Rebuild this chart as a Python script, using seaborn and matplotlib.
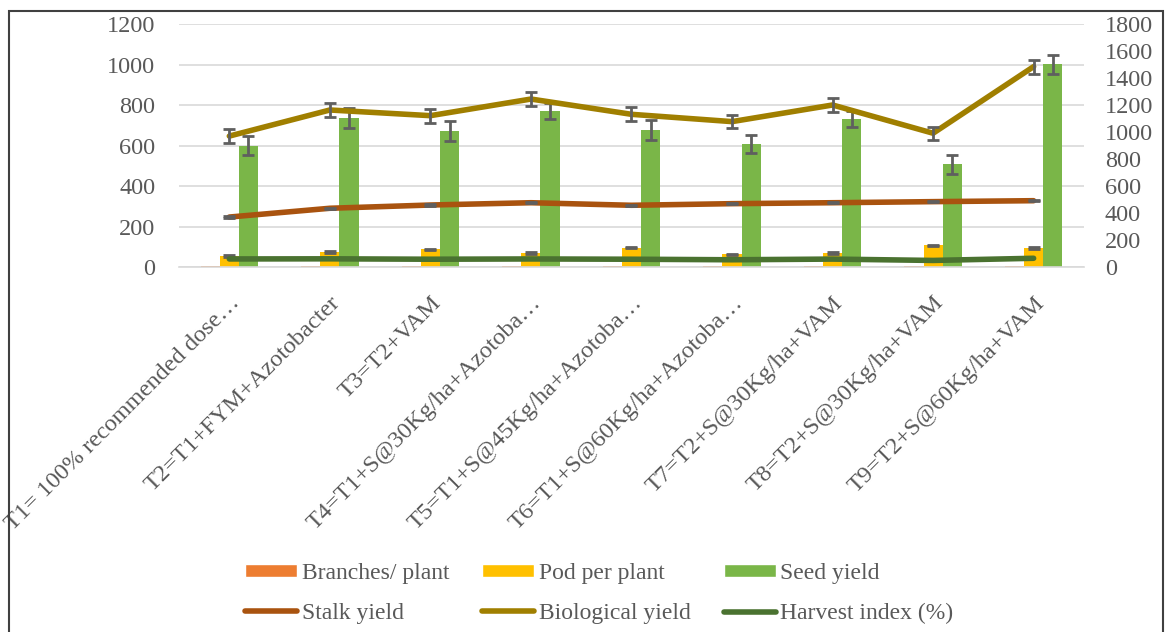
import numpy as np
import pandas as pd
import matplotlib
matplotlib.use("Agg")
import matplotlib.pyplot as plt
import seaborn as sns
from matplotlib.patches import Patch, Rectangle
from matplotlib.lines import Line2D

# Treatments
treatments = [
    "T1= 100% recommended dose…",
    "T2=T1+FYM+Azotobacter",
    "T3=T2+VAM",
    "T4=T1+S@30Kg/ha+Azotoba…",
    "T5=T1+S@45Kg/ha+Azotoba…",
    "T6=T1+S@60Kg/ha+Azotoba…",
    "T7=T2+S@30Kg/ha+VAM",
    "T8=T2+S@30Kg/ha+VAM",
    "T9=T2+S@60Kg/ha+VAM",
]

# Bar series (primary axis)
branches_per_plant = [9, 9, 9, 9, 9, 9, 9, 9, 9]
pod_per_plant = [57, 77, 89, 70, 97, 64, 72, 108, 95]
pod_err = [4, 4, 3, 4, 3, 4, 4, 3, 4]
seed_yield = [600, 735, 671, 772, 677, 608, 730, 508, 1001]
seed_err = [46, 49, 49, 39, 50, 46, 39, 46, 47]

# Line series (secondary axis)
stalk_yield = [372, 437, 461, 478, 459, 471, 478, 486, 493]
stalk_err = [5, 5, 5, 5, 5, 5, 5, 5, 5]
biological_yield = [971, 1164, 1122, 1245, 1132, 1078, 1201, 992, 1485]
bio_err = [54, 54, 53, 50, 52, 48, 54, 48, 52]
harvest_index = [62, 63, 60, 62, 60, 56, 61, 51, 67]

left_ticks = [0, 200, 400, 600, 800, 1000, 1200]
right_ticks = [0, 200, 400, 600, 800, 1000, 1200, 1400, 1600, 1800]

bar_names = ["Branches/ plant", "Pod per plant", "Seed yield"]
bar_colors = ["#ED7D31", "#FFC000", "#7AB648"]
line_names = ["Stalk yield", "Biological yield", "Harvest index (%)"]
line_colors = ["#A9530F", "#A07F00", "#4A7230"]

text_color = "#595959"
err_color = "#5F5F5F"
grid_color = "#D9D9D9"
fs = 17.5
legend_fs = 17

sns.set_theme(style="white")
plt.rcParams["font.family"] = ["Liberation Serif", "DejaVu Serif"]

bars_df = pd.DataFrame({
    "treatment": treatments * 3,
    "series": [bar_names[0]] * 9 + [bar_names[1]] * 9 + [bar_names[2]] * 9,
    "value": branches_per_plant + pod_per_plant + seed_yield,
})

fig = plt.figure(figsize=(11.68, 6.32), dpi=100)
ax = fig.add_axes([0.1533, 0.577, 0.7747, 0.385])

sns.barplot(data=bars_df, x="treatment", y="value", hue="series",
            order=treatments, hue_order=bar_names, palette=bar_colors,
            width=0.57, gap=0, errorbar=None, legend=False, ax=ax,
            saturation=1, edgecolor="none")

# error bars on pod and seed bars, at the bar centres seaborn placed
for cont, errs in [(ax.containers[1], pod_err), (ax.containers[2], seed_err)]:
    xs = [p.get_x() + p.get_width() / 2 for p in cont.patches]
    hs = [p.get_height() for p in cont.patches]
    ax.errorbar(xs, hs, yerr=errs, fmt="none", ecolor=err_color,
                elinewidth=2, capsize=4, capthick=2, zorder=5)

ax.set_ylim(0, 1200)
ax.set_yticks(left_ticks)
ax.set_xlim(-0.5, len(treatments) - 0.5)
ax.yaxis.grid(True, color=grid_color, linewidth=1.2)
ax.set_axisbelow(True)
for s in ["top", "right", "left"]:
    ax.spines[s].set_visible(False)
ax.spines["bottom"].set_color(grid_color)
ax.spines["bottom"].set_linewidth(1.2)
ax.set_xlabel("")
ax.set_ylabel("")
ax.tick_params(axis="both", length=0, colors=text_color, labelsize=fs)
ax.tick_params(axis="y", pad=17)
ax.set_xticks(range(len(treatments)))
ax.set_xticklabels(treatments, rotation=45, ha="right", va="top",
                   rotation_mode="anchor", color=text_color, fontsize=fs)
ax.tick_params(axis="x", pad=18)

ax2 = ax.twinx()
xpos = np.arange(len(treatments))
for vals, name, col in zip([stalk_yield, biological_yield, harvest_index],
                           line_names, line_colors):
    sns.lineplot(x=xpos, y=vals, ax=ax2, color=col, linewidth=4,
                 label=name, legend=False, zorder=4)
ax2.errorbar(xpos, stalk_yield, yerr=stalk_err, fmt="none", ecolor=err_color,
             elinewidth=2, capsize=4, capthick=2, zorder=6)
ax2.errorbar(xpos, biological_yield, yerr=bio_err, fmt="none", ecolor=err_color,
             elinewidth=2, capsize=4, capthick=2, zorder=6)
ax2.set_ylim(0, 1800)
ax2.set_yticks(right_ticks)
ax2.grid(False)
for s in ["top", "right", "left", "bottom"]:
    ax2.spines[s].set_visible(False)
ax2.tick_params(axis="y", length=0, colors=text_color, labelsize=fs, pad=15)

# legend: two rows of three
handles = [
    Patch(facecolor=bar_colors[0]), Line2D([], [], color=line_colors[0], lw=4),
    Patch(facecolor=bar_colors[1]), Line2D([], [], color=line_colors[1], lw=4),
    Patch(facecolor=bar_colors[2]), Line2D([], [], color=line_colors[2], lw=4),
]
labels = [bar_names[0], line_names[0], bar_names[1], line_names[1],
          bar_names[2], line_names[2]]
fig.legend(handles, labels, ncol=3, loc="center", bbox_to_anchor=(0.513, 0.061),
           frameon=False, fontsize=legend_fs, labelcolor=text_color,
           handlelength=2.2, handleheight=0.5, handletextpad=0.2,
           columnspacing=1.4, labelspacing=0.82)

# outer frame
fig.patches.append(Rectangle((9 / 1168, -0.05), 1154 / 1168, 1.05 - 11 / 632,
                             transform=fig.transFigure, fill=False,
                             edgecolor="#404040", linewidth=1.5))

fig.savefig("out.png", dpi=100)
